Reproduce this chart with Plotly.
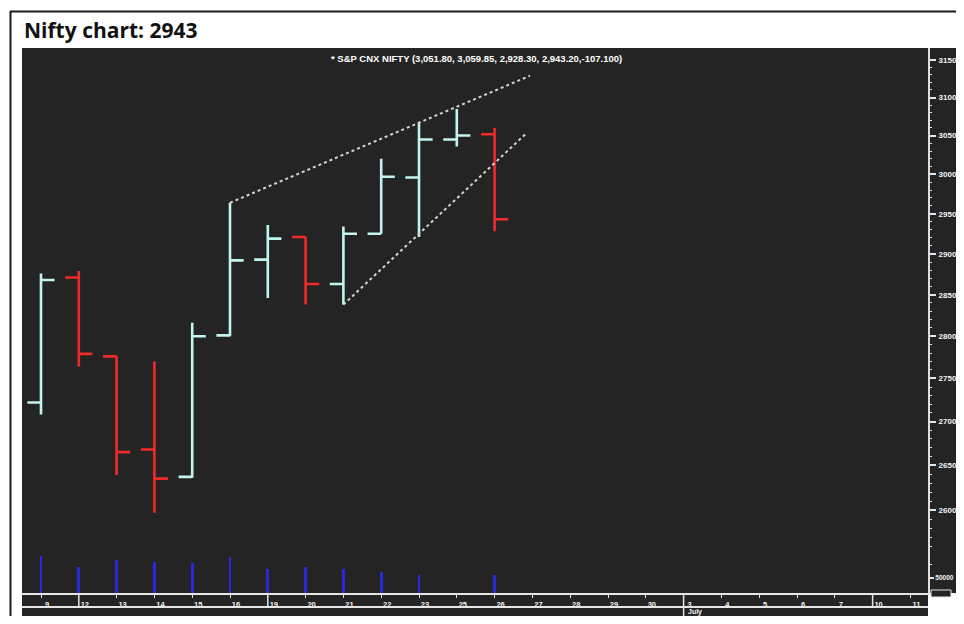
import math
import plotly.graph_objects as go

# ---------------- data ----------------
day_labels = ["9", "12", "13", "14", "15", "16", "19", "20", "21", "22", "23", "25",
              "26", "27", "28", "29", "30", "3", "4", "5", "6", "7", "10", "11"]
week_starts = [1, 6, 17, 22]          # index of first day of a new week on the axis
month_start_label = "July"
month_start_index = 17

open_ = [2722, 2871, 2776, 2668, 2637, 2801, 2893, 2921, 2863, 2925, 2996, 3045, 3051.80]
high = [2876, 2879, 2776, 2770, 2816, 2964, 2936, 2921, 2934, 3020, 3067, 3085, 3059.85]
low = [2708, 2764, 2639, 2597, 2636, 2800, 2846, 2838, 2838, 2925, 2921, 3036, 2928.30]
close = [2868, 2779, 2665, 2635, 2800, 2892, 2919, 2863, 2925, 2997, 3045, 3050.3, 2943.20]
volume = [123000, 87000, 110000, 103000, 100000, 120000, 80000, 87000, 80000, 70000,
          60000, None, 60000]

price_ticks = [3150, 3100, 3050, 3000, 2950, 2900, 2850, 2800, 2750, 2700, 2650, 2600]
price_minor = [v for v in range(2540, 3160, 10) if v % 50 != 0]
volume_ticks = [50000]

trend_upper_x = [5, 12.94]
trend_upper_y = [2964, 3129]
trend_lower_x = [8, 12.86]
trend_lower_y = [2838, 3054]

header = "* S&P CNX NIFTY (3,051.80, 3,059.85, 2,928.30, 2,943.20,-107.100)"
title = "Nifty chart: 2943"

# ---------------- layout geometry (reference-pixel based) ----------------
OFF = 8                                  # page body margin
W, H = 964 - 2 * OFF, 624 - 2 * OFF      # figure size: page fits the window exactly
FX1, FY1 = OFF + W, OFF + H              # right / bottom edge of the figure in page pixels
L, R, T, B = 22, 928, 48, 593            # plot area in reference pixels
PW, PH = R - L, B - T
DEC = 5400.0  # pixels per decade on the price axis
y_hi = math.log10(3150) + (60 - T) / DEC
y_lo = math.log10(3150) - (B - 60) / DEC
BAR_DX = 37.8
x0 = -(41 - L) / BAR_DX
x1 = x0 + PW / BAR_DX
vol_max = 50000 * PH / 15.0


def px(xp):
    return (xp - L) / PW


def py(yp):
    return (B - yp) / PH


DARK = "#242424"
idx = list(range(len(open_)))

fig = go.Figure()

fig.add_trace(go.Bar(
    x=idx, y=volume, yaxis="y2", width=0.07,
    marker=dict(color="#2828dc", line=dict(width=0)),
    hoverinfo="skip", showlegend=False))

fig.add_trace(go.Ohlc(
    x=idx, open=open_, high=high, low=low, close=close,
    increasing=dict(line=dict(color="#c2f4f0", width=2.6)),
    decreasing=dict(line=dict(color="#f02a2a", width=2.6)),
    tickwidth=0.36, showlegend=False, hoverinfo="skip"))

for tx, ty in ((trend_upper_x, trend_upper_y), (trend_lower_x, trend_lower_y)):
    fig.add_trace(go.Scatter(
        x=tx, y=ty, mode="lines",
        line=dict(color="#d4d4d4", width=2, dash="dot"),
        showlegend=False, hoverinfo="skip"))

# invisible trace to keep the minor-tick axis alive
fig.add_trace(go.Scatter(x=[0], y=[2900], yaxis="y3", mode="markers",
                         marker=dict(opacity=0), showlegend=False, hoverinfo="skip"))

yfont = dict(family="Liberation Sans, Arial", size=8, color="#f4f4f4", weight="bold")
vfont = dict(family="Liberation Sans, Arial", size=6.5, color="#f4f4f4", weight="bold")
xfont = dict(family="Liberation Sans, Arial", size=7.5, color="#f4f4f4", weight="bold")

shapes = [
    dict(type="rect", xref="paper", yref="paper", x0=1, x1=px(FX1), y0=0, y1=1,
         fillcolor=DARK, line=dict(width=0), layer="below"),
    dict(type="rect", xref="paper", yref="paper", x0=0, x1=1, y0=py(min(617, FY1)), y1=0,
         fillcolor=DARK, line=dict(width=0), layer="below"),
    dict(type="line", xref="paper", yref="paper", x0=0, x1=1, y0=py(607), y1=py(607),
         line=dict(color="#e6e6e6", width=2)),
    dict(type="line", xref="paper", yref="paper", x0=px(10.5), x1=px(10.5), y0=py(11),
         y1=py(FY1), line=dict(color="#1a1a1a", width=2)),
    dict(type="line", xref="paper", yref="paper", x0=px(10), x1=px(FX1), y0=py(11.5),
         y1=py(11.5), line=dict(color="#1a1a1a", width=2)),
    dict(type="rect", xref="paper", yref="paper", x0=px(931), x1=px(951), y0=py(597), y1=py(590),
         line=dict(color="#e6e6e6", width=1), fillcolor=DARK),
]
for w in week_starts:
    y_end = py(min(617, FY1)) if w == month_start_index else py(607)
    shapes.append(dict(type="line", xref="x", yref="paper", x0=w, x1=w, y0=y_end, y1=0,
                       line=dict(color="#e6e6e6", width=1.5)))

annotations = [
    dict(text=title, xref="paper", yref="paper", x=0, y=py(30), xanchor="left", yanchor="middle",
         showarrow=False, font=dict(family="Open Sans", size=21, color="#111111", weight="bold")),
    dict(text=header, xref="paper", yref="paper", x=px(476), y=py(59), xanchor="center",
         yanchor="middle", showarrow=False,
         font=dict(family="Liberation Sans, Arial", size=9.5, color="#ffffff", weight="bold")),
    dict(text=month_start_label, xref="x", yref="paper", x=month_start_index, y=py(612),
         xanchor="left", yanchor="middle", xshift=2, showarrow=False,
         font=dict(family="Liberation Sans, Arial", size=7, color="#f4f4f4", weight="bold")),
]

fig.update_layout(
    width=W, height=H,
    margin=dict(l=L - OFF, r=FX1 - R, t=T - OFF, b=FY1 - B, pad=0, autoexpand=False),
    paper_bgcolor="#ffffff", plot_bgcolor=DARK,
    showlegend=False, bargap=0,
    shapes=shapes, annotations=annotations,
    xaxis=dict(range=[x0, x1], rangeslider=dict(visible=False), showgrid=False, zeroline=False,
               automargin=False,
               tickmode="array", tickvals=list(range(len(day_labels))), ticktext=day_labels,
               ticks="outside", ticklen=3, tickcolor="#e6e6e6", tickwidth=1,
               ticklabelshift=6, ticklabelstandoff=0,
               tickfont=xfont, showline=True, linecolor="#e6e6e6", linewidth=2,
               fixedrange=True),
    yaxis=dict(type="log", range=[y_lo, y_hi], side="right", showgrid=False, zeroline=False,
               automargin=False,
               tickmode="array", tickvals=price_ticks, ticktext=[str(v) for v in price_ticks],
               ticks="outside", ticklen=6, tickcolor="#e6e6e6", tickwidth=1.5,
               ticklabelstandoff=1,
               tickfont=yfont, showline=True, linecolor="#e0e0e0", linewidth=2,
               fixedrange=True),
    yaxis2=dict(range=[0, vol_max], overlaying="y", side="right", anchor="x", showgrid=False,
                zeroline=False, automargin=False, tickmode="array", tickvals=volume_ticks,
                ticktext=[str(v) for v in volume_ticks], ticks="outside", ticklen=5,
                tickcolor="#e6e6e6", tickwidth=1.5, tickfont=vfont, showline=False,
                ticklabelstandoff=0, fixedrange=True),
    yaxis3=dict(type="log", range=[y_lo, y_hi], overlaying="y", side="right", anchor="x",
                showgrid=False, zeroline=False, automargin=False, tickmode="array",
                tickvals=price_minor, showticklabels=False, ticks="outside", ticklen=3,
                tickcolor="#e6e6e6", tickwidth=1, showline=False, fixedrange=True),
)

fig.write_html("out.html", config={"displayModeBar": False})
